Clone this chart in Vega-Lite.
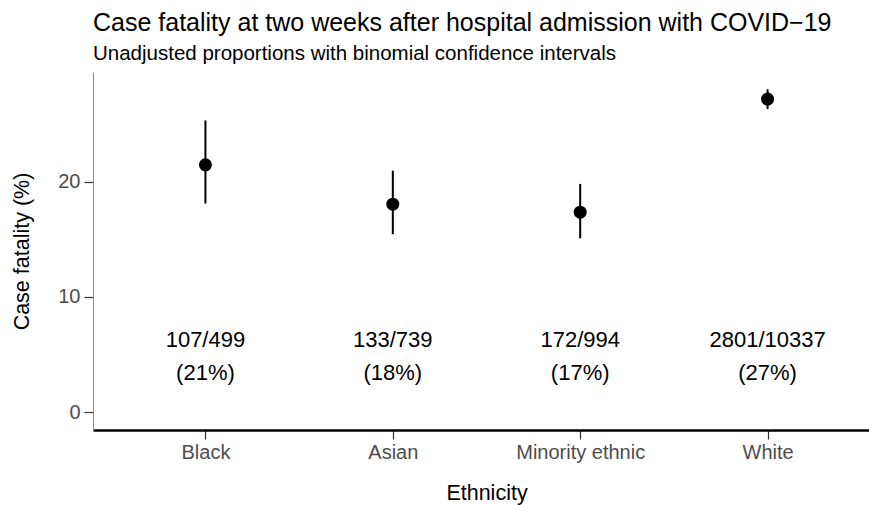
{
  "$schema": "https://vega.github.io/schema/vega-lite/v6.json",
  "width": 776,
  "height": 358,
  "autosize": {"type": "none"},
  "padding": {"left": 93, "top": 72, "right": 0, "bottom": 75},
  "background": "white",
  "config": {
    "view": {"stroke": null},
    "font": "Liberation Sans",
    "title": {"font": "Liberation Sans", "fontWeight": "normal"},
    "axis": {"labelFont": "Liberation Sans", "titleFont": "Liberation Sans", "titleFontWeight": "normal", "grid": false}
  },
  "title": {
    "text": "Case fatality at two weeks after hospital admission with COVID−19",
    "subtitle": "Unadjusted proportions with binomial confidence intervals",
    "anchor": "start",
    "frame": "group",
    "fontSize": 25,
    "color": "black",
    "subtitleFontSize": 20.5,
    "subtitleColor": "black",
    "subtitlePadding": 8,
    "offset": 8
  },
  "data": {
    "values": [
      {"ethnicity": "Black", "est": 21.45, "lo": 18.1, "hi": 25.3, "count": "107/499", "pct": "(21%)"},
      {"ethnicity": "Asian", "est": 18.04, "lo": 15.44, "hi": 20.95, "count": "133/739", "pct": "(18%)"},
      {"ethnicity": "Minority ethnic", "est": 17.35, "lo": 15.09, "hi": 19.8, "count": "172/994", "pct": "(17%)"},
      {"ethnicity": "White", "est": 27.15, "lo": 26.3, "hi": 28.0, "count": "2801/10337", "pct": "(27%)"}
    ]
  },
  "encoding": {
    "x": {
      "field": "ethnicity",
      "type": "nominal",
      "sort": null,
      "scale": {"type": "point", "padding": 0.6, "range": [0, 787]},
      "axis": {
        "title": "Ethnicity",
        "labelAngle": 0,
        "labelFontSize": 20,
        "labelColor": "#4d4d4d",
        "labelPadding": 3,
        "titleFontSize": 21.5,
        "titleColor": "black",
        "titlePadding": 20,
        "domainColor": "black",
        "domainWidth": 2.5,
        "tickColor": "#333333",
        "tickWidth": 1.2,
        "tickSize": 9
      }
    }
  },
  "layer": [
    {
      "mark": {"type": "rule", "color": "black", "strokeWidth": 2},
      "encoding": {
        "y": {
          "field": "lo",
          "type": "quantitative",
          "scale": {"domain": [-1.53, 29.5], "nice": false, "zero": false},
          "axis": {
            "title": "Case fatality (%)",
            "values": [0, 10, 20],
            "labelFontSize": 20,
            "labelColor": "#4d4d4d",
            "labelPadding": 4,
            "titleFontSize": 21.5,
            "titleColor": "black",
            "titlePadding": 24,
            "domainColor": "#8c8c8c",
            "domainWidth": 1,
            "tickColor": "#333333",
            "tickWidth": 1.2,
            "tickSize": 9
          }
        },
        "y2": {"field": "hi"}
      }
    },
    {
      "mark": {"type": "point", "filled": true, "shape": "circle", "size": 170, "color": "black", "opacity": 1},
      "encoding": {"y": {"field": "est", "type": "quantitative"}}
    },
    {
      "mark": {"type": "text", "fontSize": 22, "color": "black", "baseline": "middle", "align": "center"},
      "encoding": {"y": {"datum": 6.27}, "text": {"field": "count"}}
    },
    {
      "mark": {"type": "text", "fontSize": 22, "color": "black", "baseline": "middle", "align": "center"},
      "encoding": {"y": {"datum": 3.42}, "text": {"field": "pct"}}
    }
  ]
}
